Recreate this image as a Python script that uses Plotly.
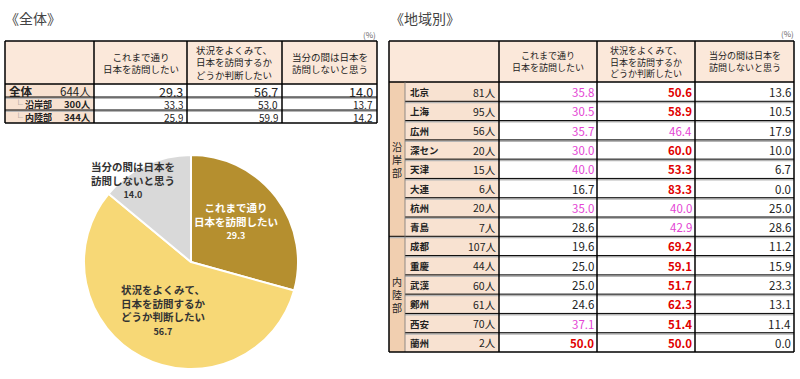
import plotly.graph_objects as go

# ---------------- data ----------------
answer_labels = ["これまで通り<br>日本を訪問したい",
                 "状況をよくみて、<br>日本を訪問するか<br>どうか判断したい",
                 "当分の間は日本を<br>訪問しないと思う"]
overall_rows = ["全体", "沿岸部", "内陸部"]
overall_n = [644, 300, 344]
overall_col1 = [29.3, 33.3, 25.9]
overall_col2 = [56.7, 53.0, 59.9]
overall_col3 = [14.0, 13.7, 14.2]

regions = ["沿岸部", "内陸部"]
region_sizes = [8, 6]
cities = ["北京", "上海", "広州", "深セン", "天津", "大連", "杭州", "青島",
          "成都", "重慶", "武漢", "鄭州", "西安", "蘭州"]
city_n = [81, 95, 56, 20, 15, 6, 20, 7, 107, 44, 60, 61, 70, 2]
city_col1 = [35.8, 30.5, 35.7, 30.0, 40.0, 16.7, 35.0, 28.6, 19.6, 25.0, 25.0, 24.6, 37.1, 50.0]
city_col2 = [50.6, 58.9, 46.4, 60.0, 53.3, 83.3, 40.0, 42.9, 69.2, 59.1, 51.7, 62.3, 51.4, 50.0]
city_col3 = [13.6, 10.5, 17.9, 10.0, 6.7, 0.0, 25.0, 28.6, 11.2, 15.9, 23.3, 13.1, 11.4, 0.0]

pie_values = [29.3, 56.7, 14.0]

# ---------------- style ----------------
FONT = "Noto Sans CJK JP"
HEAD_FILL = "#fbe8da"
NAME_FILL = "#f8e2d1"
REGION_FILL = "#f1cfb0"
PIE_COLORS = ["#b58f2f", "#f7d876", "#d9d9d9"]
PINK = "#e444d4"
RED = "#e00000"
TXT = "#222222"

shapes = []
annotations = []


def rect(x0, x1, y0, y1, fill):
    shapes.append(dict(type="rect", xref="x", yref="y", x0=x0, x1=x1, y0=y0, y1=y1,
                       fillcolor=fill, line=dict(width=0), layer="below"))


def line(x0, x1, y0, y1, color="#000", width=1.2):
    shapes.append(dict(type="line", xref="x", yref="y", x0=x0, x1=x1, y0=y0, y1=y1,
                       line=dict(color=color, width=width)))


def text(x, y, s, size=10, color=TXT, xanchor="center", bold=False, yanchor="middle",
         height=None):
    if bold:
        s = "<b>" + s + "</b>"
    a = dict(xref="x", yref="y", x=x, y=y, text=s, showarrow=False,
             xanchor=xanchor, yanchor=yanchor, borderpad=0,
             font=dict(family=FONT, size=size, color=color))
    if height is not None:
        a["height"] = height
    annotations.append(a)


def val_color(v):
    if v >= 50:
        return RED
    if v >= 30:
        return PINK
    return TXT


# ---------------- titles ----------------
text(4, 18, "《全体》", size=14, color="#444", xanchor="left")
text(389, 18, "《地域別》", size=14, color="#444", xanchor="left")
text(377, 34, "(%)", size=8, color="#666", xanchor="right")
text(795, 33, "(%)", size=8, color="#666", xanchor="right")

# ---------------- left table ----------------
L_cols = [5, 94, 187, 282, 377]
L_top, L_head = 41, 84
L_rowh = 13
L_bot = L_head + L_rowh * len(overall_rows)
rect(L_cols[0], L_cols[-1], L_top, L_head, HEAD_FILL)
for i in range(len(overall_rows)):
    y0 = L_head + i * L_rowh
    rect(L_cols[0], L_cols[1], y0, y0 + L_rowh, NAME_FILL)
for j, lab in enumerate(answer_labels):
    text((L_cols[j + 1] + L_cols[j + 2]) / 2, (L_top + L_head) / 2, lab, size=9.5)
overall_vals = [overall_col1, overall_col2, overall_col3]
for i, name in enumerate(overall_rows):
    yc = L_head + i * L_rowh + L_rowh / 2 + 0.5
    big = i == 0
    hh = L_rowh - 1
    if big:
        text(L_cols[0] + 3, yc, name, size=11.5, bold=True, xanchor="left", height=hh)
    else:
        text(L_cols[0] + 8, yc, "<span style='color:#888'>└</span> " + name, size=9,
             bold=True, xanchor="left", height=hh)
    text(L_cols[1] - 2, yc, f"{overall_n[i]}人", size=11.5 if big else 9.5, xanchor="right",
         bold=not big, height=hh)
    for j in range(3):
        text(L_cols[j + 2] - 3, yc, f"{overall_vals[j][i]:.1f}",
             size=12.5 if big else 10, xanchor="right", height=hh)
# lines
for i in range(1, len(overall_rows)):
    y = L_head + i * L_rowh
    line(L_cols[0], L_cols[-1], y + 1.3, y + 1.3, "#b5b5b5", 1.5)
    line(L_cols[0], L_cols[-1], y, y, "#000", 1)
line(L_cols[0], L_cols[-1], L_head, L_head, "#000", 1.5)
for x in L_cols:
    line(x, x, L_top, L_bot, "#000", 1.5)
line(L_cols[0], L_cols[-1], L_top, L_top, "#000", 1.5)
line(L_cols[0], L_cols[-1], L_bot, L_bot, "#000", 1.5)

# ---------------- right table ----------------
R_cols = [389, 405, 499, 597, 695, 794]
R_top, R_head, R_bot = 41, 82, 352
R_rowh = (R_bot - R_head) / len(cities)
rect(R_cols[0], R_cols[-1], R_top, R_head, HEAD_FILL)
rect(R_cols[0], R_cols[1], R_head, R_bot, REGION_FILL)
rect(R_cols[1], R_cols[2], R_head, R_bot, NAME_FILL)
for j, lab in enumerate(answer_labels):
    text((R_cols[j + 2] + R_cols[j + 3]) / 2, (R_top + R_head) / 2, lab, size=9)
city_vals = [city_col1, city_col2, city_col3]
for i, name in enumerate(cities):
    yc = R_head + i * R_rowh + R_rowh / 2 + 0.5
    text(R_cols[1] + 4, yc, name, size=9.5, bold=True, xanchor="left")
    text(R_cols[2] - 2, yc, f"{city_n[i]}人", size=10.5, xanchor="right")
    for j in range(3):
        v = city_vals[j][i]
        c = val_color(v) if j < 2 else TXT
        text(R_cols[j + 3] - 2, yc, f"{v:.1f}", size=11.5, color=c, xanchor="right",
             bold=(c == RED))
start = 0
for k, reg in enumerate(regions):
    y0 = R_head + start * R_rowh
    y1 = y0 + region_sizes[k] * R_rowh
    text((R_cols[0] + R_cols[1]) / 2, (y0 + y1) / 2, "<br>".join(list(reg)), size=10)
    start += region_sizes[k]
# row lines
boundaries = set()
acc = 0
for s in region_sizes[:-1]:
    acc += s
    boundaries.add(acc)
for i in range(1, len(cities)):
    y = R_head + i * R_rowh
    x0 = R_cols[0] if i in boundaries else R_cols[1]
    line(x0, R_cols[-1], y + 1.3, y + 1.3, "#b5b5b5", 1.5)
    line(x0, R_cols[-1], y, y, "#000", 1)
line(R_cols[0], R_cols[-1], R_head, R_head, "#000", 1.5)
line(R_cols[0], R_cols[0], R_top, R_bot, "#000", 1.5)
line(R_cols[1], R_cols[1], R_head, R_bot, "#777", 0.8)
for x in R_cols[2:]:
    line(x, x, R_top, R_bot, "#000", 1.5)
line(R_cols[0], R_cols[-1], R_top, R_top, "#000", 1.5)
line(R_cols[0], R_cols[-1], R_bot, R_bot, "#000", 1.5)

# ---------------- pie ----------------
W, H = 800, 379
cx, cy, r = 191, 262, 107
pie = go.Pie(values=pie_values, labels=[l.replace("<br>", "") for l in answer_labels],
             sort=False, direction="clockwise", rotation=0,
             marker=dict(colors=PIE_COLORS, line=dict(color="white", width=2)),
             textinfo="none", hoverinfo="label+value", showlegend=False,
             domain=dict(x=[(cx - r) / W, (cx + r) / W], y=[(H - cy - r) / H, (H - cy + r) / H]))

pie_label_pos = [(236, 221), (163, 310), (133, 180)]
pie_label_col = ["white", "#333", "#333"]
for k, lab in enumerate(answer_labels):
    x, y = pie_label_pos[k]
    s = f"<b>{lab}</b><br><b><span style='font-size:9px'>{pie_values[k]:.1f}</span></b>"
    annotations.append(dict(xref="x", yref="y", x=x, y=y, text=s, showarrow=False,
                            xanchor="center", yanchor="middle",
                            font=dict(family=FONT, size=10.5, color=pie_label_col[k])))

fig = go.Figure(pie)
fig.add_trace(go.Scatter(x=[0, W], y=[0, H], mode="markers", marker=dict(opacity=0),
                         hoverinfo="skip", showlegend=False))
fig.update_layout(
    width=W, height=H, margin=dict(l=0, r=0, t=0, b=0),
    paper_bgcolor="white", plot_bgcolor="white",
    xaxis=dict(range=[0, W], visible=False, fixedrange=True),
    yaxis=dict(range=[H, 0], visible=False, fixedrange=True),
    shapes=shapes, annotations=annotations,
    font=dict(family=FONT),
)
fig.write_html("out.html", config={"displayModeBar": False},
               post_script="document.body.style.margin='0';document.body.style.overflow='hidden';")
